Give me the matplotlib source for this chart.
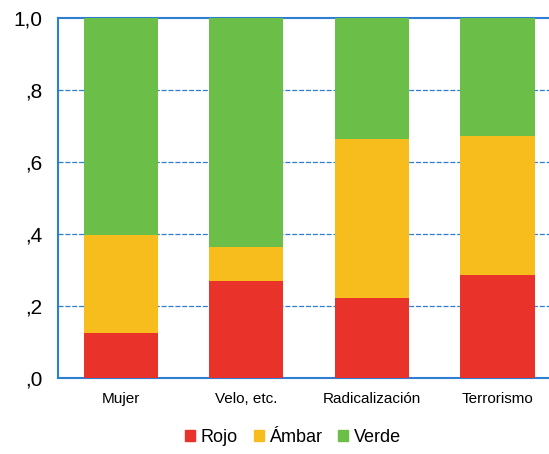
import numpy as np
import matplotlib.pyplot as plt
from matplotlib.patches import Patch

plt.rcParams['font.family'] = ['Liberation Sans', 'DejaVu Sans']

categories = ['Mujer', 'Velo, etc.', 'Radicalización', 'Terrorismo']
rojo = [0.126, 0.270, 0.222, 0.286]
ambar = [0.271, 0.094, 0.442, 0.387]
verde = [0.603, 0.636, 0.336, 0.327]

c_rojo = '#E8322A'
c_ambar = '#F6BD1C'
c_verde = '#6BBE47'
c_blue = '#2E7FD4'

fig = plt.figure(figsize=(5.49, 4.54), dpi=100)
ax = fig.add_axes([58 / 549, 1 - 378 / 454, 1 - 58 / 549, 360 / 454])

x = np.arange(len(categories))
w = 0.59
ax.bar(x, rojo, w, color=c_rojo, zorder=3)
ax.bar(x, ambar, w, bottom=rojo, color=c_ambar, zorder=3)
ax.bar(x, verde, w, bottom=np.add(rojo, ambar), color=c_verde, zorder=3)

ax.set_xlim(-0.5, 3.41)
ax.set_ylim(0, 1.0)
ax.set_yticks([0, 0.2, 0.4, 0.6, 0.8, 1.0])
ax.set_yticklabels([',0', ',2', ',4', ',6', ',8', '1,0'], fontsize=15)
ax.set_xticks(x)
ax.set_xticklabels(categories, fontsize=11)
ax.tick_params(axis='x', length=0, pad=10)
ax.tick_params(axis='y', length=0, pad=11)

for v in [0.2, 0.4, 0.6, 0.8]:
    ax.axhline(v, color=c_blue, linestyle=(0, (4, 1.5)), linewidth=0.9, zorder=1)

for s in ['left', 'bottom', 'top']:
    ax.spines[s].set_color(c_blue)
    ax.spines[s].set_linewidth(1.5)
ax.spines['right'].set_visible(False)

handles = [Patch(color=c_rojo, label='Rojo'),
           Patch(color=c_ambar, label='Ámbar'),
           Patch(color=c_verde, label='Verde')]
fig.legend(handles=handles, loc='center', bbox_to_anchor=(293 / 549, 1 - 437 / 454),
           ncol=3, frameon=False, fontsize=13, handlelength=0.55, handleheight=0.55,
           handletextpad=0.3, columnspacing=0.9)

fig.savefig('out.png', dpi=100)
